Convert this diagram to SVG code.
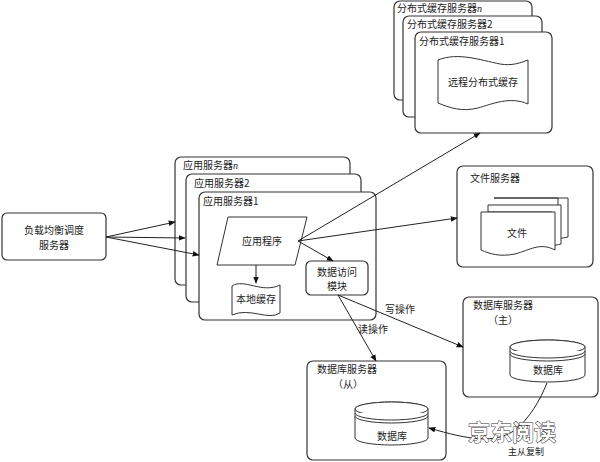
<svg xmlns="http://www.w3.org/2000/svg" width="600" height="462" viewBox="0 0 600 462">
<defs>
<marker id="ah" viewBox="0 0 10 10" refX="9" refY="5" markerWidth="7" markerHeight="7" orient="auto-start-reverse" markerUnits="userSpaceOnUse">
<path d="M0,1 L10,5 L0,9 Z" fill="#111"/>
</marker>
<style>
.box{fill:#fff;stroke:#333;stroke-width:1.2}
.shape{fill:#fff;stroke:#333;stroke-width:1}
.t{font-family:"Noto Sans CJK SC","Liberation Sans",sans-serif;font-size:10px;fill:#222}
.tc{font-family:"Noto Sans CJK SC","Liberation Sans",sans-serif;font-size:10px;fill:#222;text-anchor:middle}
.line{fill:none;stroke:#222;stroke-width:1;marker-end:url(#ah)}
.n{font-family:"Liberation Serif",serif;font-style:italic}
</style>
</defs>
<rect width="600" height="462" fill="#fff"/>

<g id="load-balancer">
<rect class="box" x="2" y="213" width="104" height="47" rx="5"/>
<text class="tc" x="54" y="234">负载均衡调度</text>
<text class="tc" x="54" y="249">服务器</text>
</g>

<g id="app-server-n">
<rect class="box" x="175" y="157" width="175" height="128" rx="6"/>
<text class="t" x="183" y="169">应用服务器<tspan class="n">n</tspan></text>
</g>
<g id="app-server-2">
<rect class="box" x="186" y="174" width="175" height="128" rx="6"/>
<text class="t" x="194" y="187">应用服务器2</text>
</g>
<g id="app-server-1">
<rect class="box" x="199" y="192" width="177" height="128" rx="6"/>
<text class="t" x="203" y="205">应用服务器1</text>
</g>

<g id="app-program">
<path class="shape" d="M228,217 L307,217 L295,265 L217,265 Z"/>
<text class="tc" x="262" y="245">应用程序</text>
</g>

<g id="local-cache">
<path class="shape" d="M232,286 C244,278 262,294 280,285 L280,313 C268,321 250,307 232,315 Z"/>
<text class="tc" x="256" y="303">本地缓存</text>
</g>

<g id="data-access">
<rect class="box" x="306" y="261" width="62" height="34" rx="5"/>
<text class="tc" x="337" y="276">数据访问</text>
<text class="tc" x="337" y="290">模块</text>
</g>

<g id="dist-cache-n">
<rect class="box" x="394" y="1" width="138" height="99" rx="6"/>
<text class="t" x="397" y="12">分布式缓存服务器<tspan class="n">n</tspan></text>
</g>
<g id="dist-cache-2">
<rect class="box" x="403" y="16" width="139" height="101" rx="6"/>
<text class="t" x="407" y="28">分布式缓存服务器2</text>
</g>
<g id="dist-cache-1">
<rect class="box" x="415" y="32" width="137" height="101" rx="6"/>
<text class="t" x="419" y="45">分布式缓存服务器1</text>
<path class="shape" d="M438,60 C458,52 480,60 500,64 C512,66 520,63 528,60 L528,104 C510,96 492,104 478,108 C462,112 450,108 438,103 Z"/>
<text class="tc" x="483" y="86">远程分布式缓存</text>
</g>

<g id="file-server">
<rect class="box" x="457" y="166" width="136" height="101" rx="6"/>
<text class="t" x="470" y="182">文件服务器</text>
<path class="shape" d="M494,198 L568,198 L568,237 C564,238 561,238 558,239 L558,198 Z"/>
<path class="shape" d="M488,205 L561,205 L561,244 C557,245 555,245 552,246 L552,212 L488,212 Z"/>
<path class="shape" d="M481,212 L555,212 L555,250 C540,242 530,250 515,254 C500,257 490,254 481,250 Z"/>
<text class="tc" x="517" y="237">文件</text>
</g>

<g id="db-master">
<rect class="box" x="463" y="297" width="135" height="100" rx="6"/>
<text class="t" x="473" y="309">数据库服务器</text>
<text class="t" x="488" y="324">（主）</text>
<path class="shape" d="M510,347 A37.5,7 0 0 1 585,347 L585,375 A37.5,7 0 0 1 510,375 Z"/>
<ellipse class="shape" cx="547.5" cy="347" rx="37.5" ry="7"/>
<path class="shape" fill="none" d="M510,351 A37.5,7 0 0 0 585,351 M510,354 A37.5,7 0 0 0 585,354"/>
<text class="tc" x="548" y="374">数据库</text>
</g>

<g id="db-slave">
<rect class="box" x="307" y="361" width="139" height="99" rx="6"/>
<text class="t" x="317" y="373">数据库服务器</text>
<text class="t" x="333" y="388">（从）</text>
<path class="shape" d="M355,409 A36.5,7 0 0 1 428,409 L428,438 A36.5,7 0 0 1 355,438 Z"/>
<ellipse class="shape" cx="391.5" cy="409" rx="36.5" ry="7"/>
<path class="shape" fill="none" d="M355,413 A36.5,7 0 0 0 428,413 M355,416 A36.5,7 0 0 0 428,416"/>
<text class="tc" x="392" y="440">数据库</text>
</g>

<g id="connectors">
<path class="line" d="M106,237 L175,222"/>
<path class="line" d="M106,237 L185,238"/>
<path class="line" d="M106,237 L199,255"/>
<path class="line" d="M256,265 L256,283"/>
<path class="line" d="M298,241 L333,261"/>
<path class="line" d="M298,241 L480,133"/>
<path class="line" d="M298,241 L457,218"/>
<path class="line" d="M338,295 L376,361"/>
<path class="line" d="M338,295 L463,347"/>
<path class="line" d="M547,383 C540,400 530,418 515,430 C495,444 470,440 429,428"/>
<text class="t" x="385" y="313">写操作</text>
<text class="t" x="358" y="333">读操作</text>
<text class="t" x="508" y="455" style="font-size:9px">主从复制</text>
</g>

<text x="468" y="440" style="font-family:'Noto Sans CJK SC',sans-serif;font-size:22px;font-weight:bold;fill:#fff;stroke:#333;stroke-width:1;paint-order:stroke">京东阅读</text>
</svg>
